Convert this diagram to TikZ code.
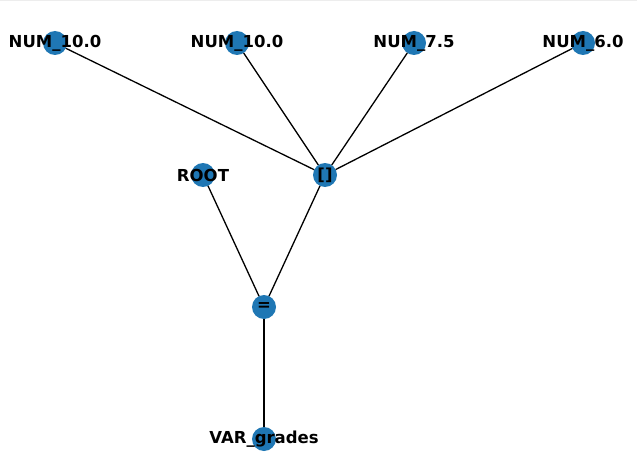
\documentclass[tikz,border=0pt]{standalone}
\usepackage{fontspec}
\setmainfont{DejaVu Sans}
\definecolor{nxblue}{HTML}{1F77B4}
\begin{document}
\begin{tikzpicture}[x=1pt,y=-1pt,
  vert/.style={circle,fill=nxblue,minimum size=24pt,inner sep=0pt,outer sep=0pt},
  lbl/.style={font=\fontsize{16.5}{18}\selectfont\bfseries,text=black,inner sep=0pt},
  edge/.style={draw=black,line width=1.3pt}]
\useasboundingbox (0,0) rectangle (637,476);
\fill[black!7] (0,0) rectangle (637,1.5);
\node[vert] (n1) at (55,43) {};
\node[vert] (n2) at (237,43) {};
\node[vert] (n3) at (414,43) {};
\node[vert] (n4) at (583,43) {};
\node[vert] (root) at (203,175) {};
\node[vert] (list) at (325,175) {};
\node[vert] (eq) at (264,307) {};
\node[vert] (var) at (264,439) {};
\draw[edge] (n1) -- (list);
\draw[edge] (n2) -- (list);
\draw[edge] (n3) -- (list);
\draw[edge] (n4) -- (list);
\draw[edge] (root) -- (eq);
\draw[edge] (list) -- (eq);
\draw[edge] (eq) -- (var);
\node[lbl] (t1) at (n1) {NUM\_10.0};
\node[lbl] (t2) at (n2) {NUM\_10.0};
\node[lbl] (t3) at (n3) {NUM\_7.5};
\node[lbl] (t4) at (n4) {NUM\_6.0};
\node[lbl] (troot) at (root) {ROOT};
\node[lbl] (tlist) at (list) {[]};
\node[lbl] (teq) at (eq) {=};
\node[lbl] (tvar) at (var) {VAR\_grades};
\end{tikzpicture}
\end{document}
